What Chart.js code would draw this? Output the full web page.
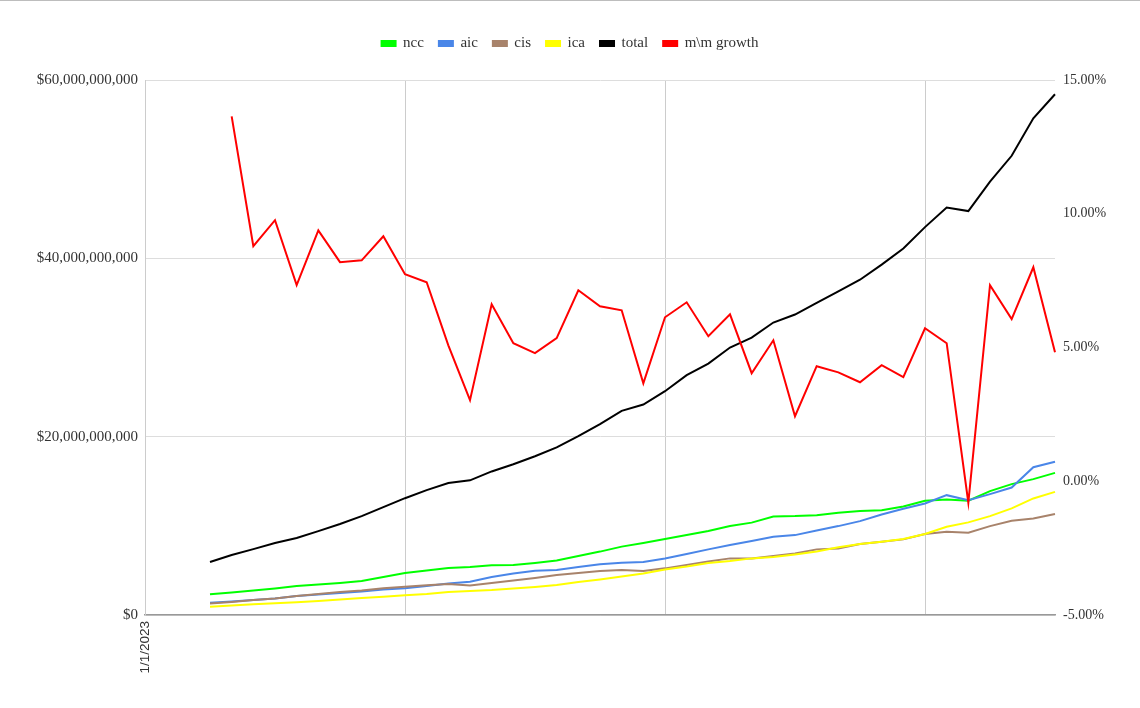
<!DOCTYPE html>
<html lang="en">
<head>
  <meta charset="UTF-8">
  <title>ncc / aic / cis / ica totals and m\m growth</title>
  <script src="https://cdn.jsdelivr.net/npm/chart.js"></script>
  <style>
    html, body {
      margin: 0;
      padding: 0;
      background: #fff;
    }
    body {
      border-top: 1px solid #bdbdbd;
      box-sizing: border-box;
    }
    .chart-container {
      position: relative;
      width: 1140px;
      height: 707px;
    }
  </style>
</head>
<body>
  <div class="chart-container">
    <canvas id="growthChart"></canvas>
  </div>

  <script>
    // x axis: monthly categories, only the first one gets a label
    const axisMonths = [
      '1/1/2023', '2/1/2023', '3/1/2023', '4/1/2023', '5/1/2023', '6/1/2023',
      '7/1/2023', '8/1/2023', '9/1/2023', '10/1/2023', '11/1/2023', '12/1/2023',
      '1/1/2024', '2/1/2024', '3/1/2024', '4/1/2024', '5/1/2024', '6/1/2024',
      '7/1/2024', '8/1/2024', '9/1/2024', '10/1/2024', '11/1/2024', '12/1/2024',
      '1/1/2025', '2/1/2025', '3/1/2025', '4/1/2025', '5/1/2025', '6/1/2025',
      '7/1/2025', '8/1/2025', '9/1/2025', '10/1/2025', '11/1/2025', '12/1/2025',
      '1/1/2026', '2/1/2026', '3/1/2026', '4/1/2026', '5/1/2026', '6/1/2026',
      '7/1/2026'
    ];
    const dataMonths = axisMonths.slice(3);

    // values in billions of dollars
    const ncc = [2.32, 2.52, 2.74, 2.97, 3.25, 3.42, 3.59, 3.81, 4.26, 4.71,
                 4.99, 5.27, 5.38, 5.57, 5.60, 5.83, 6.11, 6.61, 7.11, 7.67,
                 8.07, 8.52, 8.96, 9.41, 9.97, 10.36, 11.04, 11.09, 11.20, 11.48,
                 11.65, 11.76, 12.16, 12.81, 12.94, 12.81, 13.89, 14.68, 15.24, 15.94];
    const aic = [1.38, 1.51, 1.68, 1.85, 2.13, 2.30, 2.46, 2.63, 2.86, 2.99,
                 3.25, 3.53, 3.73, 4.26, 4.65, 4.96, 5.04, 5.38, 5.68, 5.86,
                 5.94, 6.33, 6.83, 7.36, 7.84, 8.29, 8.77, 8.96, 9.47, 9.97,
                 10.53, 11.28, 11.91, 12.51, 13.44, 12.88, 13.56, 14.29, 16.58, 17.18];
    const cis = [1.29, 1.46, 1.68, 1.85, 2.13, 2.35, 2.58, 2.74, 2.99, 3.17,
                 3.33, 3.47, 3.31, 3.59, 3.87, 4.15, 4.48, 4.71, 4.93, 5.04,
                 4.93, 5.23, 5.60, 5.99, 6.35, 6.35, 6.61, 6.89, 7.36, 7.47,
                 7.95, 8.21, 8.48, 9.08, 9.33, 9.22, 9.97, 10.57, 10.83, 11.32];
    const ica = [0.93, 1.06, 1.20, 1.31, 1.42, 1.57, 1.74, 1.90, 2.05, 2.21,
                 2.35, 2.58, 2.69, 2.80, 2.97, 3.14, 3.36, 3.70, 3.98, 4.31,
                 4.65, 5.10, 5.43, 5.83, 6.05, 6.35, 6.50, 6.78, 7.11, 7.59,
                 7.95, 8.21, 8.52, 9.08, 9.89, 10.39, 11.09, 11.95, 13.07, 13.81];
    const total = [5.94, 6.72, 7.39, 8.07, 8.63, 9.41, 10.2, 11.09, 12.1, 13.1,
                   14.0, 14.8, 15.1, 16.1, 16.9, 17.8, 18.8, 20.05, 21.4, 22.9,
                   23.6, 25.1, 26.9, 28.2, 30.0, 31.1, 32.8, 33.7, 35.0, 36.3,
                   37.6, 39.3, 41.1, 43.5, 45.7, 45.3, 48.6, 51.5, 55.7, 58.4];
    // month over month growth, percent
    const growth = [null, 13.64, 8.79, 9.76, 7.33, 9.38, 8.19, 8.26, 9.16, 7.74,
                    7.44, 5.08, 3.03, 6.62, 5.16, 4.79, 5.35, 7.14, 6.54, 6.39,
                    3.66, 6.13, 6.69, 5.42, 6.24, 4.04, 5.27, 2.43, 4.30, 4.07,
                    3.70, 4.34, 3.89, 5.72, 5.16, -0.8, 7.33, 6.06, 8.00, 4.82];

    const dollarTicks = [0, 20e9, 40e9, 60e9];
    const pctTicks = [-5, 0, 5, 10, 15];

    function points(values, scale) {
      return values.map((v, i) => ({ x: dataMonths[i], y: v === null ? null : v * scale }));
    }

    function series(label, values, color, axis, order, scale) {
      return {
        label: label,
        data: points(values, scale),
        borderColor: color,
        backgroundColor: color,
        borderWidth: 2,
        pointRadius: 0,
        tension: 0,
        yAxisID: axis,
        order: order
      };
    }

    // extra room under the legend, before the plot starts
    const legendGap = {
      id: 'legendGap',
      beforeLayout(chart) {
        const lg = chart.legend;
        if (lg && !lg._gapDone) {
          const fit = lg.fit;
          lg.fit = function () { fit.call(this); this.height += 19; };
          lg._gapDone = true;
        }
      }
    };

    const serif = "'Liberation Serif', serif";

    const ctx = document.getElementById('growthChart').getContext('2d');
    new Chart(ctx, {
      type: 'line',
      data: {
        labels: axisMonths,
        datasets: [
          series('ncc', ncc, '#00ff00', 'y', 5, 1e9),
          series('aic', aic, '#4a86e8', 'y', 4, 1e9),
          series('cis', cis, '#a8836b', 'y', 3, 1e9),
          series('ica', ica, '#ffff00', 'y', 2, 1e9),
          series('total', total, '#000000', 'y', 1, 1e9),
          series('m\\m growth', growth, '#ff0000', 'y1', 0, 1)
        ]
      },
      plugins: [legendGap],
      options: {
        responsive: true,
        maintainAspectRatio: false,
        animation: false,
        layout: { padding: { top: 20, left: 0, right: 0, bottom: 0 } },
        plugins: {
          legend: {
            position: 'top',
            labels: {
              boxWidth: 14,
              boxHeight: 5,
              padding: 15,
              color: '#333',
              font: { family: serif, size: 15 },
              sort: (a, b) => a.datasetIndex - b.datasetIndex
            }
          },
          tooltip: { enabled: false }
        },
        scales: {
          x: {
            type: 'category',
            offset: false,
            grid: {
              drawTicks: false,
              color: c => (c.index % 12 === 0 ? '#cccccc' : 'rgba(0,0,0,0)')
            },
            border: { color: '#999', width: 1.5 },
            ticks: {
              autoSkip: false,
              maxRotation: 90,
              minRotation: 90,
              padding: 6,
              color: '#333',
              font: { family: "'Liberation Sans', sans-serif", size: 13.5 },
              callback: function (value, index) {
                return index === 0 ? this.getLabelForValue(value) : '';
              }
            },
            afterFit: s => { s.height = 93; }
          },
          y: {
            position: 'left',
            min: 0,
            max: 60e9,
            afterBuildTicks: s => { s.ticks = dollarTicks.map(v => ({ value: v })); },
            grid: { drawTicks: false, color: '#dddddd' },
            border: { color: '#cccccc' },
            ticks: {
              padding: 7,
              color: '#333',
              font: { family: serif, size: 15 },
              callback: v => '$' + Number(v).toLocaleString('en-US')
            },
            afterFit: s => { s.width = 145; }
          },
          y1: {
            position: 'right',
            min: -5,
            max: 15,
            afterBuildTicks: s => { s.ticks = pctTicks.map(v => ({ value: v })); },
            grid: { display: false, drawTicks: false },
            border: { display: false },
            ticks: {
              padding: 8,
              color: '#333',
              font: { family: serif, size: 14 },
              callback: v => Number(v).toFixed(2) + '%'
            },
            afterFit: s => { s.width = 85; }
          }
        }
      }
    });
  </script>
</body>
</html>
